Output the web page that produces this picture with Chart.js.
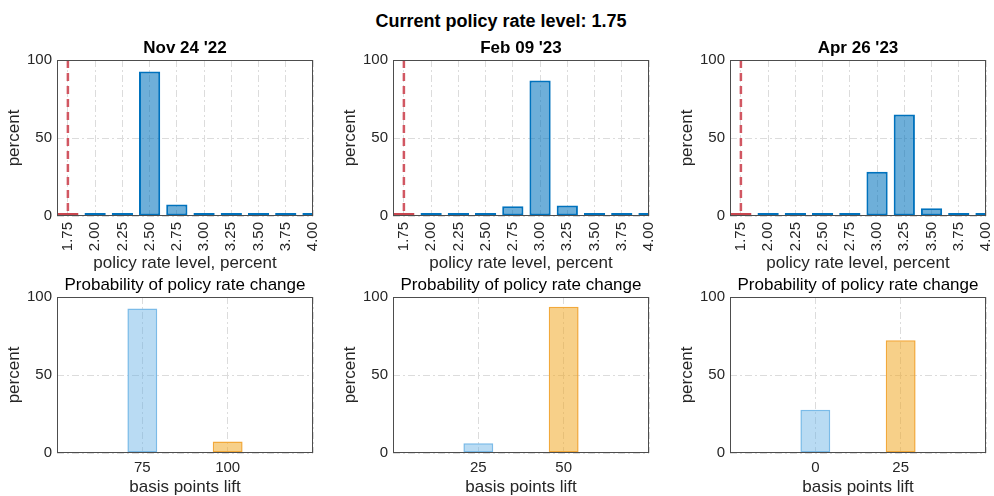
<!DOCTYPE html>
<html>
<head>
<meta charset="utf-8">
<title>Policy rate probabilities</title>
<script src="https://cdn.jsdelivr.net/npm/chart.js@4.4.0/dist/chart.umd.min.js"></script>
<style>
  html, body { margin: 0; padding: 0; overflow: hidden; background: #fff; }
  body { position: relative; width: 994px; height: 496px; font-family: "Liberation Sans", Arial, Helvetica, sans-serif; }
  .txt { position: absolute; white-space: nowrap; text-align: center; color: #000; }
  canvas { position: absolute; }
</style>
</head>
<body>
<div class="txt" style="left:0;width:1002px;top:12px;font-size:18px;line-height:18px;font-weight:bold">Current policy rate level: 1.75</div>
<script>
const currentRate = 1.75;
const rateLevels = [1.75, 2.00, 2.25, 2.50, 2.75, 3.00, 3.25, 3.50, 3.75, 4.00];
const meetingDates = ["Nov 24 '22", "Feb 09 '23", "Apr 26 '23"];

// probability of each rate level, percent
const probNov = [0, 0, 0, 92.6, 7.4, 0, 0, 0, 0, 0];
const probFeb = [0, 0, 0, 0, 6.3, 86.9, 6.8, 0, 0, 0];
const probApr = [0, 0, 0, 0, 1.7, 28.3, 65.1, 4.9, 0, 0];

// probability of policy rate change, by basis points lift
const liftNov = ['75', '100'];
const changeNov = [92.6, 7.4];
const liftFeb = ['25', '50'];
const changeFeb = [6.3, 93.7];
const liftApr = ['0', '25'];
const changeApr = [27.8, 72.2];

const percentTicks = [0, 50, 100];

const FONT = '"Liberation Sans", Arial, Helvetica, sans-serif';
const TEXT = '#262626';
const plotLefts = [57, 393, 730];
const plotWidth = 256;

const gridOpts = { color: '#dcdcdc', lineWidth: 1, drawTicks: false, offset: false };
const borderOpts = { display: false, dash: [7, 3, 2, 3] };

// MATLAB style box round the axes
const boxPlugin = {
    id: 'box',
    afterDatasetsDraw(chart) {
        const a = chart.chartArea;
        const ctx = chart.ctx;
        ctx.save();
        ctx.strokeStyle = '#4d4d4d';
        ctx.lineWidth = 1;
        ctx.strokeRect(a.left + 0.5, a.top + 0.5, a.right - a.left - 1, a.bottom - a.top - 1);
        ctx.restore();
    },
};

function addText(text, left, top, size, bold) {
    const d = document.createElement('div');
    d.className = 'txt';
    d.textContent = text;
    d.style.left = (left - 150) + 'px';
    d.style.width = '300px';
    d.style.top = top + 'px';
    d.style.fontSize = size + 'px';
    d.style.lineHeight = size + 'px';
    d.style.fontWeight = bold ? 'bold' : 'normal';
    document.body.appendChild(d);
}

function addCanvas(left, top, width, height) {
    const c = document.createElement('canvas');
    c.width = width;
    c.height = height;
    c.style.left = left + 'px';
    c.style.top = top + 'px';
    c.style.width = width + 'px';
    c.style.height = height + 'px';
    document.body.appendChild(c);
    return c.getContext('2d');
}

function percentScale() {
    return {
        min: 0,
        max: 100,
        afterBuildTicks: s => { s.ticks = percentTicks.map(v => ({ value: v })); },
        afterFit: s => { s.width = 57; s.paddingTop = 0; s.paddingBottom = 0; },
        grid: gridOpts,
        border: borderOpts,
        ticks: { color: TEXT, padding: 5, font: { family: FONT, size: 15 } },
        title: {
            display: true, text: 'percent', color: TEXT,
            padding: { top: 6, bottom: 0 },
            font: { family: FONT, size: 17, lineHeight: 1 },
        },
    };
}

function commonOptions() {
    return {
        responsive: false,
        animation: false,
        devicePixelRatio: 1,
        events: [],
        layout: { padding: { top: 10, right: 10, left: 0, bottom: 0 } },
        plugins: { legend: { display: false }, tooltip: { enabled: false }, title: { display: false } },
    };
}

function rateChart(idx, probs) {
    const left = plotLefts[idx];
    const ctx = addCanvas(left - 57, 50, 57 + plotWidth + 10, 222);
    addText(meetingDates[idx], left + plotWidth / 2, 39, 17, true);

    const options = commonOptions();
    options.scales = {
        x: {
            type: 'linear',
            min: 1.65,
            max: 4.0,
            offset: false,
            afterBuildTicks: s => { s.ticks = rateLevels.map(v => ({ value: v })); },
            afterFit: s => { s.height = 56; s.paddingLeft = 0; s.paddingRight = 0; },
            grid: gridOpts,
            border: borderOpts,
            ticks: {
                color: TEXT, padding: 6, autoSkip: false, minRotation: 90, maxRotation: 90,
                font: { family: FONT, size: 15 },
                callback: v => Number(v).toFixed(2),
            },
            title: {
                display: true, text: 'policy rate level, percent', color: TEXT, padding: 0,
                font: { family: FONT, size: 17, lineHeight: 1 },
            },
        },
        y: percentScale(),
    };

    new Chart(ctx, {
        type: 'bar',
        data: {
            datasets: [
                {
                    // current rate marker, drawn top down so a dash meets the top edge
                    type: 'line',
                    data: [{ x: currentRate, y: 100 }, { x: currentRate, y: 0 }],
                    borderColor: 'rgba(205, 70, 82, 0.9)',
                    borderWidth: 2.5,
                    borderDash: [8, 5],
                    pointRadius: 0,
                    clip: 0,
                },
                {
                    type: 'bar',
                    data: rateLevels.map((r, i) => ({ x: r, y: probs[i] })),
                    backgroundColor: 'rgba(0, 114, 189, 0.57)',
                    borderColor: c => (c.raw && c.raw.x === currentRate ? '#c9464f' : '#0072bd'),
                    borderWidth: 2,
                    borderSkipped: false,
                    minBarLength: 3,
                    barPercentage: 1,
                    categoryPercentage: 0.78,
                    clip: 0,
                },
            ],
        },
        options,
        plugins: [boxPlugin],
    });
}

function changeChart(idx, lifts, values) {
    const left = plotLefts[idx];
    const ctx = addCanvas(left - 57, 287, 57 + plotWidth + 10, 209);
    addText('Probability of policy rate change', left + plotWidth / 2, 276, 17, false);

    const labels = ['', ...lifts, ''];
    const data = [null, ...values, null];

    const options = commonOptions();
    options.scales = {
        x: {
            type: 'category',
            offset: false,
            afterFit: s => { s.height = 43; s.paddingLeft = 0; s.paddingRight = 0; },
            grid: gridOpts,
            border: borderOpts,
            ticks: { color: TEXT, padding: 6, autoSkip: false, maxRotation: 0, font: { family: FONT, size: 15 } },
            title: {
                display: true, text: 'basis points lift', color: TEXT, padding: 0,
                font: { family: FONT, size: 17, lineHeight: 1 },
            },
        },
        y: percentScale(),
    };

    new Chart(ctx, {
        type: 'bar',
        data: {
            labels,
            datasets: [{
                data,
                backgroundColor: [null, 'rgba(100, 175, 228, 0.45)', 'rgba(240, 170, 40, 0.55)', null],
                borderColor: [null, '#7bbbe8', '#f2a93b', null],
                borderWidth: 1.5,
                borderSkipped: false,
                barPercentage: 1,
                categoryPercentage: 0.35,
                clip: 0,
            }],
        },
        options,
        plugins: [boxPlugin],
    });
}

rateChart(0, probNov);
rateChart(1, probFeb);
rateChart(2, probApr);
changeChart(0, liftNov, changeNov);
changeChart(1, liftFeb, changeFeb);
changeChart(2, liftApr, changeApr);
</script>
</body>
</html>
